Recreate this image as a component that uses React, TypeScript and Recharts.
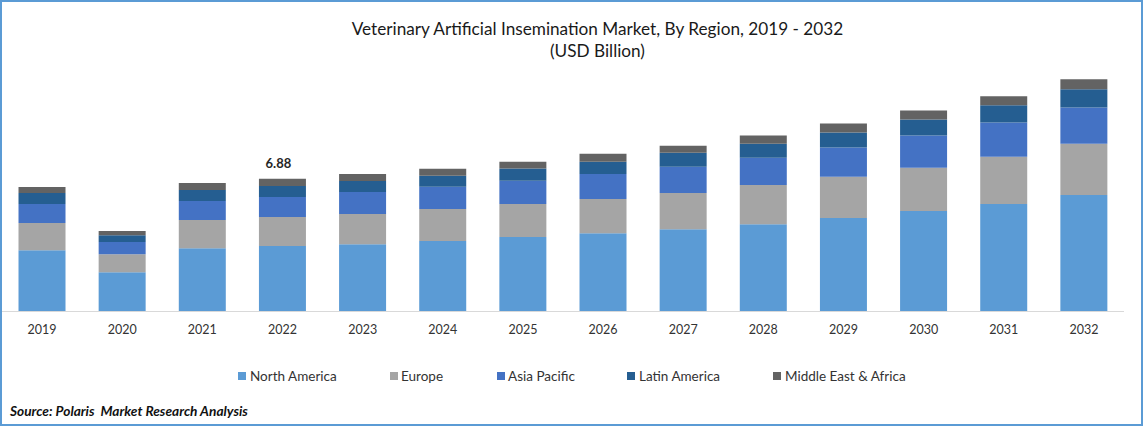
import { Bar, BarChart, LabelList, Legend, XAxis, YAxis } from 'recharts';

const years = ['2019', '2020', '2021', '2022', '2023', '2024', '2025', '2026', '2027', '2028', '2029', '2030', '2031', '2032'];
const northAmerica = [3.18, 2.03, 3.28, 3.39, 3.49, 3.65, 3.86, 4.06, 4.27, 4.53, 4.85, 5.21, 5.58, 6.04];
const europe = [1.41, 0.94, 1.46, 1.51, 1.56, 1.67, 1.72, 1.77, 1.88, 2.03, 2.14, 2.24, 2.45, 2.66];
const asiaPacific = [0.99, 0.63, 0.99, 1.04, 1.15, 1.15, 1.2, 1.3, 1.35, 1.41, 1.51, 1.67, 1.77, 1.88];
const latinAmerica = [0.57, 0.36, 0.57, 0.57, 0.57, 0.57, 0.63, 0.63, 0.73, 0.73, 0.78, 0.83, 0.89, 0.94];
const middleEast = [0.31, 0.21, 0.36, 0.37, 0.36, 0.36, 0.36, 0.42, 0.36, 0.42, 0.47, 0.47, 0.47, 0.52];
const topLabels = ['', '', '', '6.88', '', '', '', '', '', '', '', '', '', ''];

const data = years.map((year, i) => ({
  year,
  northAmerica: northAmerica[i],
  europe: europe[i],
  asiaPacific: asiaPacific[i],
  latinAmerica: latinAmerica[i],
  middleEast: middleEast[i],
  topLabel: topLabels[i],
}));

const FONT = 'Lato, sans-serif';

const legendItems = [
  { name: 'North America', color: '#5B9BD5', left: 238, textLeft: 250 },
  { name: 'Europe', color: '#A5A5A5', left: 390, textLeft: 401 },
  { name: 'Asia Pacific', color: '#4472C4', left: 497, textLeft: 508 },
  { name: 'Latin America', color: '#255E91', left: 627, textLeft: 639 },
  { name: 'Middle East & Africa', color: '#636363', left: 773, textLeft: 785 },
];

function ChartLegend() {
  return (
    <div style={{ position: 'relative', width: 1143, height: 20 }}>
      {legendItems.map((item) => (
        <div key={item.name}>
          <span
            style={{
              position: 'absolute',
              left: item.left,
              top: 5,
              width: 8,
              height: 8,
              background: item.color,
            }}
          />
          <span
            style={{
              position: 'absolute',
              left: item.textLeft,
              top: 0,
              fontSize: 13.5,
              lineHeight: '18px',
              color: '#333',
              whiteSpace: 'nowrap',
            }}
          >
            {item.name}
          </span>
        </div>
      ))}
    </div>
  );
}

export default function App() {
  return (
    <div
      style={{
        position: 'absolute',
        left: 0,
        top: 0,
        width: 1143,
        height: 426,
        boxSizing: 'border-box',
        border: '2px solid #5B9BD5',
        background: '#fff',
        fontFamily: FONT,
      }}
    >
      <div
        style={{
          position: 'absolute',
          left: 0,
          top: 16,
          width: 1191,
          textAlign: 'center',
          fontSize: 17.2,
          lineHeight: '22px',
          color: '#1a1a1a',
        }}
      >
        Veterinary Artificial Insemination Market, By Region, 2019 - 2032
        <br />
        (USD Billion)
      </div>
      <div style={{ position: 'absolute', left: -2, top: -2 }}>
        <BarChart
          width={1143}
          height={426}
          data={data}
          barCategoryGap="20.6%"
          margin={{ top: 41.5, right: 19, bottom: 64.5, left: 2 }}
        >
          <XAxis
            dataKey="year"
            height={30}
            stroke="#d9d9d9"
            tickLine={false}
            tickMargin={7.5}
            tick={{ fontSize: 12.5, fill: '#333', fontFamily: FONT }}
          />
          <YAxis hide domain={[0, 14]} />
          <Legend
            verticalAlign="bottom"
            wrapperStyle={{ left: 0, top: 367, width: 1143, fontFamily: FONT }}
            content={() => <ChartLegend />}
          />
          <Bar dataKey="northAmerica" name="North America" stackId="a" fill="#5B9BD5" isAnimationActive={false} />
          <Bar dataKey="europe" name="Europe" stackId="a" fill="#A5A5A5" isAnimationActive={false} />
          <Bar dataKey="asiaPacific" name="Asia Pacific" stackId="a" fill="#4472C4" isAnimationActive={false} />
          <Bar dataKey="latinAmerica" name="Latin America" stackId="a" fill="#255E91" isAnimationActive={false} />
          <Bar dataKey="middleEast" name="Middle East & Africa" stackId="a" fill="#636363" isAnimationActive={false}>
            <LabelList
              dataKey="topLabel"
              position="top"
              offset={10.5}
              dx={-4}
              style={{ fontSize: 13, fontWeight: 700, fill: '#262626', fontFamily: FONT }}
            />
          </Bar>
        </BarChart>
      </div>
      <div
        style={{
          position: 'absolute',
          left: 8,
          top: 400,
          fontSize: 13.7,
          fontWeight: 700,
          fontStyle: 'italic',
          color: '#111',
          whiteSpace: 'nowrap',
        }}
      >
        Source: Polaris&nbsp; Market Research Analysis
      </div>
    </div>
  );
}
